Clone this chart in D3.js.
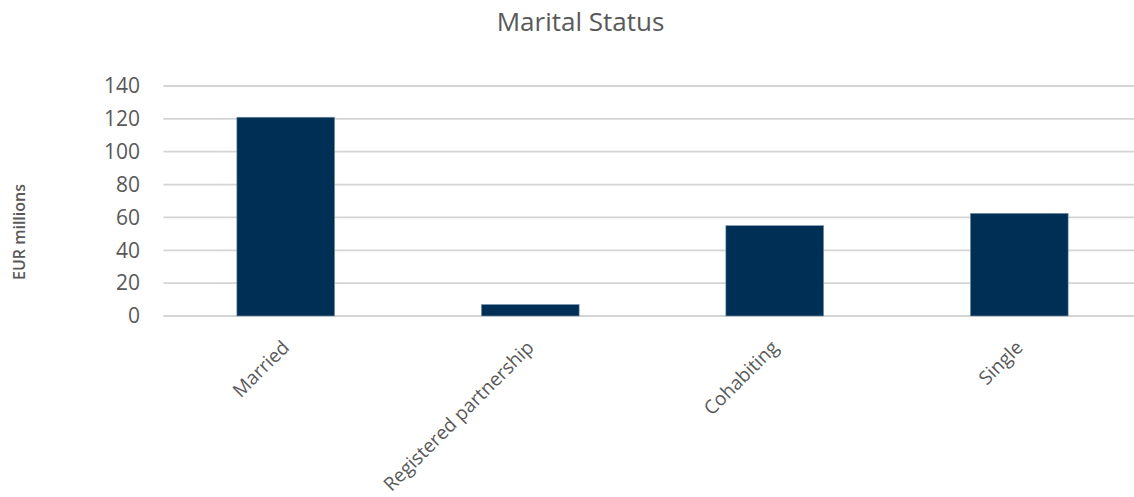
<!DOCTYPE html>
<html><head><meta charset="utf-8">
<script src="https://cdn.jsdelivr.net/npm/d3@7/dist/d3.min.js"></script>
<style>body{margin:0;background:#fff;}svg{display:block;}</style>
</head><body><svg id="c" width="1134" height="497"></svg>
<script>
const categories = ["Married", "Registered partnership", "Cohabiting", "Single"];
const values = [121, 7, 55, 62.5];
const yTicks = [0, 20, 40, 60, 80, 100, 120, 140];
const title = "Marital Status";
const yTitle = "EUR millions";

(function () {
const svg = d3.select("#c");
const font = "'Open Sans', sans-serif";
const grey = "#595959";
const plotLeft = 163.5, plotRight = 1141.5, plotTop = 86, plotBottom = 316;

const x = d3.scaleBand().domain(categories).range([plotLeft, plotRight]).paddingInner(0.6).paddingOuter(0.3);
const y = d3.scaleLinear().domain([0, 140]).range([plotBottom, plotTop]);

// gridlines
svg.append("g").selectAll("line").data(yTicks).join("line")
  .attr("x1", plotLeft).attr("x2", plotRight)
  .attr("y1", d => y(d)).attr("y2", d => y(d))
  .attr("stroke", "#d4d4d4").attr("stroke-width", 1.8);

// y axis labels
const yAxis = svg.append("g").attr("transform", `translate(140,0)`)
  .call(d3.axisLeft(y).tickValues(yTicks).tickSize(0).tickPadding(0));
yAxis.select(".domain").remove();
yAxis.selectAll("text").attr("font-family", font).attr("font-size", 21).attr("fill", grey);

// bars
svg.append("g").selectAll("rect").data(values).join("rect")
  .attr("x", (d, i) => x(categories[i]))
  .attr("width", x.bandwidth())
  .attr("y", d => y(d))
  .attr("height", d => y(0) - y(d))
  .attr("fill", "#002F56")
  .attr("stroke", "#7f97ad").attr("stroke-width", 0.6);

// x labels
const xAxis = svg.append("g").attr("transform", `translate(0,${plotBottom})`)
  .call(d3.axisBottom(x).tickSize(0).tickPadding(0));
xAxis.select(".domain").remove();
xAxis.selectAll("text")
  .attr("font-family", font).attr("font-size", 19).attr("fill", grey)
  .attr("text-anchor", "end").attr("dy", "0.35em")
  .attr("transform", "translate(0,28) rotate(-45)");

// title
svg.append("text").attr("x", 580.5).attr("y", 31).attr("text-anchor", "middle")
  .attr("font-family", font).attr("font-size", 26).attr("fill", grey).text(title);

// y title
svg.append("text").attr("transform", "translate(25,232) rotate(-90)")
  .attr("text-anchor", "middle").attr("font-family", font).attr("font-size", 16)
  .attr("font-weight", 600).attr("fill", grey).text(yTitle);
})();
</script></body></html>
